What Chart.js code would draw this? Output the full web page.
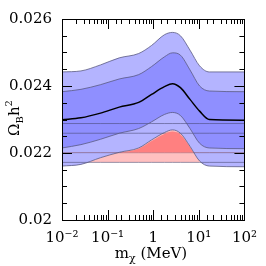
<!DOCTYPE html>
<html>
<head>
<meta charset="utf-8">
<script src="https://cdn.jsdelivr.net/npm/chart.js@4.4.1/dist/chart.umd.min.js"></script>
<style>
  html, body { margin: 0; padding: 0; background: #fff; }
  #wrap { width: 266px; height: 266px; }
</style>
</head>
<body>
<div id="wrap"><canvas id="chart" width="266" height="266"></canvas></div>
<script>
// Chart data
const massGrid = [0.01, 0.026, 0.07, 0.18, 0.48, 0.92, 1.76, 2.64, 3.95, 6.4, 10.4, 17, 100];
const upper2  = [0.02442, 0.02445, 0.02463, 0.02484, 0.02497, 0.02521, 0.02553, 0.02560, 0.02550, 0.02507, 0.02460, 0.02442, 0.02442];
const upper1  = [0.02383, 0.02390, 0.02404, 0.02421, 0.02434, 0.02458, 0.02487, 0.02499, 0.02492, 0.02448, 0.02400, 0.02385, 0.02383];
const central = [0.02299, 0.02305, 0.02319, 0.02337, 0.02351, 0.02375, 0.02398, 0.02407, 0.02395, 0.02360, 0.02325, 0.02300, 0.02298];
const lower1  = [0.02215, 0.02225, 0.02241, 0.02259, 0.02273, 0.02293, 0.02315, 0.02321, 0.02312, 0.02273, 0.02229, 0.02215, 0.02213];
const lower2  = [0.02161, 0.02166, 0.02186, 0.02202, 0.02215, 0.02239, 0.02261, 0.02269, 0.02259, 0.02220, 0.02176, 0.02161, 0.02159];
const redTop  = [0.02161, 0.02166, 0.02186, 0.02201, 0.02213, 0.02236, 0.02257, 0.02264, 0.02255, 0.02218, 0.02176, 0.02161, 0.02159];
const hLines  = [0.02172, 0.02201, 0.02259, 0.02288];
const xTickLabels = ['10⁻²', '10⁻¹', '1', '10¹', '10²'];
const yTickLabels = ['0.02', '0.022', '0.024', '0.026'];

const LIGHT_BLUE = '#b4b4ff';
const MID_BLUE = '#8f8fff';
const DARK_RED = '#ff8080';
const PINK = '#ffc0c0';
const EDGE = 'rgba(90,90,130,0.8)';
const HLINE = 'rgba(70,70,110,0.55)';
const FONT = '"DejaVu Serif", "Liberation Serif", serif';

function pts(arr) {
    return massGrid.map((m, i) => ({ x: m, y: arr[i] }));
}
function flat(v) {
    return massGrid.map(m => ({ x: m, y: v }));
}
function isDecade(v) {
    const l = Math.log10(v);
    return Math.abs(l - Math.round(l)) < 1e-6;
}

const base = { pointRadius: 0, cubicInterpolationMode: 'monotone', fill: false };
const none = 'rgba(0,0,0,0)';

const datasets = [
    // 0-3 horizontal lines
    ...hLines.map(v => ({ ...base, data: flat(v), borderColor: HLINE, borderWidth: 1, order: 15 })),
    // 4 pink region under the outer band
    { ...base, data: pts(lower2), borderWidth: 0, order: 30,
      fill: { target: 0, above: PINK, below: none } },
    // 5 outer band
    { ...base, data: pts(upper2), borderWidth: 0, order: 29,
      fill: { target: 4, above: LIGHT_BLUE, below: LIGHT_BLUE } },
    // 6 inner band
    { ...base, data: pts(upper1), borderWidth: 0, order: 28,
      fill: { target: 7, above: MID_BLUE, below: MID_BLUE } },
    // 7 inner band lower edge
    { ...base, data: pts(lower1), borderColor: EDGE, borderWidth: 1, order: 5 },
    // 8 red region
    { ...base, data: pts(redTop), borderWidth: 0, order: 10,
      fill: { target: 1, above: DARK_RED, below: none } },
    // 9-11 band edges
    { ...base, data: pts(lower2), borderColor: EDGE, borderWidth: 1, order: 5 },
    { ...base, data: pts(upper2), borderColor: EDGE, borderWidth: 1, order: 5 },
    { ...base, data: pts(upper1), borderColor: EDGE, borderWidth: 1, order: 5 },
    // 12 central value
    { ...base, data: pts(central), borderColor: '#000', borderWidth: 1.5, order: 1 }
];

// Draw text pieces (with sub/superscripts) centred at x
function drawParts(ctx, parts, cx, y) {
    let w = 0;
    parts.forEach(p => { ctx.font = p.size + 'px ' + FONT; w += ctx.measureText(p.t).width; });
    let x = cx - w / 2;
    ctx.textAlign = 'left';
    ctx.textBaseline = 'alphabetic';
    parts.forEach(p => {
        ctx.font = p.size + 'px ' + FONT;
        ctx.fillText(p.t, x, y + (p.dy || 0));
        x += ctx.measureText(p.t).width;
    });
}

const framePlugin = {
    id: 'frame',
    afterDraw(chart) {
        const ctx = chart.ctx;
        const a = chart.chartArea;
        const xs = chart.scales.x;
        const ys = chart.scales.y;
        ctx.save();
        ctx.strokeStyle = '#000';
        ctx.lineWidth = 1;
        ctx.beginPath();
        // x ticks, bottom and top, pointing inward
        xs.ticks.forEach(t => {
            const px = Math.round(xs.getPixelForValue(t.value)) + 0.5;
            const len = isDecade(t.value) ? 10 : 5;
            ctx.moveTo(px, a.bottom); ctx.lineTo(px, a.bottom - len);
            ctx.moveTo(px, a.top); ctx.lineTo(px, a.top + len);
        });
        // y ticks, left and right
        ys.ticks.forEach(t => {
            const py = Math.round(ys.getPixelForValue(t.value)) + 0.5;
            const major = yTickLabels.some(l => Math.abs(parseFloat(l) - t.value) < 1e-9);
            const len = major ? 10 : 5;
            ctx.moveTo(a.left, py); ctx.lineTo(a.left + len, py);
            ctx.moveTo(a.right, py); ctx.lineTo(a.right - len, py);
        });
        ctx.stroke();
        ctx.strokeRect(Math.round(a.left) + 0.5, Math.round(a.top) + 0.5,
                       Math.round(a.right - a.left), Math.round(a.bottom - a.top));

        // axis titles
        ctx.fillStyle = '#000';
        drawParts(ctx, [
            { t: 'm', size: 15 },
            { t: 'χ', size: 11, dy: 4 },
            { t: ' (MeV)', size: 15 }
        ], 151, 258);

        ctx.translate(19, 118);
        ctx.rotate(-Math.PI / 2);
        drawParts(ctx, [
            { t: 'Ω', size: 15 },
            { t: 'B', size: 10, dy: 4 },
            { t: 'h', size: 15 },
            { t: '2', size: 10, dy: -7 }
        ], 0, 0);
        ctx.restore();
    }
};

new Chart(document.getElementById('chart'), {
    type: 'line',
    data: { datasets: datasets },
    options: {
        responsive: false,
        animation: false,
        layout: { padding: { top: 15, right: 14, left: 0, bottom: 0 } },
        plugins: { legend: { display: false }, tooltip: { enabled: false } },
        scales: {
            x: {
                type: 'logarithmic',
                min: 0.01,
                max: 100,
                grid: { display: false, drawTicks: false },
                border: { display: false },
                afterFit: s => { s.height = 46; },
                ticks: {
                    autoSkip: false,
                    maxRotation: 0,
                    padding: 9,
                    color: '#000',
                    font: { family: FONT, size: 15 },
                    callback: v => {
                        if (!isDecade(v)) return '';
                        const i = Math.round(Math.log10(v)) + 2;
                        return xTickLabels[i];
                    }
                }
            },
            y: {
                type: 'linear',
                min: 0.02,
                max: 0.026,
                grid: { display: false, drawTicks: false },
                border: { display: false },
                afterFit: s => { s.width = 62; },
                ticks: {
                    stepSize: 0.0005,
                    autoSkip: false,
                    padding: 10,
                    color: '#000',
                    font: { family: FONT, size: 15 },
                    callback: v => {
                        const l = yTickLabels.find(s => Math.abs(parseFloat(s) - v) < 1e-9);
                        return l || '';
                    }
                }
            }
        }
    },
    plugins: [framePlugin]
});
</script>
</body>
</html>
